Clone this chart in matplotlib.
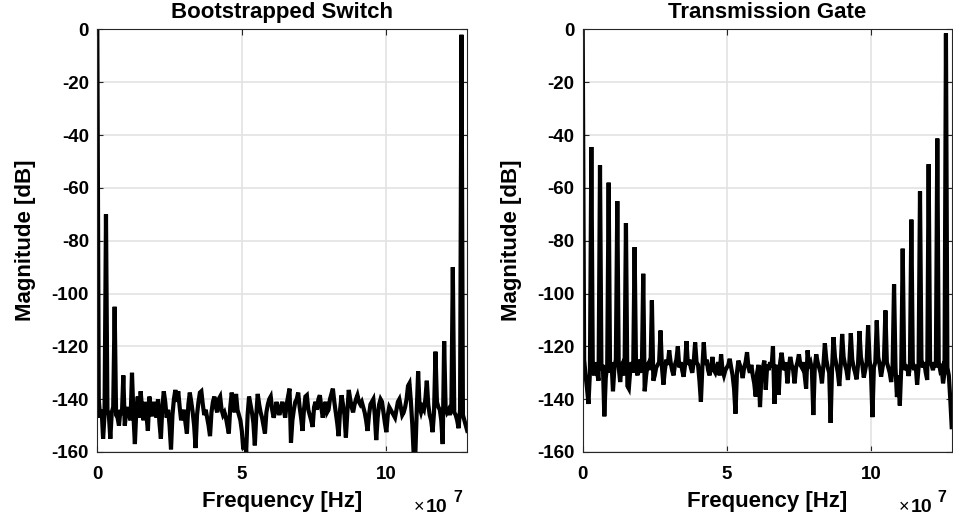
import numpy as np
import matplotlib
matplotlib.use("Agg")
import matplotlib.pyplot as plt

plt.rcParams['font.family'] = ['Liberation Sans', 'DejaVu Sans']
plt.rcParams['font.weight'] = 'bold'
plt.rcParams['axes.unicode_minus'] = False

fs = 256e6
nfft = 512

titles = ["Bootstrapped Switch", "Transmission Gate"]
xlabel = "Frequency [Hz]"
ylabel = "Magnitude [dB]"
xtick_vals = [0, 5e7, 10e7]
xtick_labels = ["0", "5", "10"]
ytick_vals = [0, -20, -40, -60, -80, -100, -120, -140, -160]

bootstrapped_db = [
    0, -140, -147, -144, -155, -146, -70, -144, -146, -155, -145, -143,
    -105, -146, -147, -150, -144, -146, -131, -150, -145, -143, -146, -148,
    -130, -146, -157, -144, -139, -147, -137, -144, -148, -141, -146, -152,
    -139, -143, -146.5, -141, -144, -147, -140, -149, -155, -143, -137, -141,
    -147, -144, -150, -159, -146, -140, -136.5, -141, -137, -143, -148, -146,
    -144, -149, -153, -142, -137.5, -141, -145, -150, -158.5, -146, -141, -137.5,
    -137, -142, -146, -144, -147, -150, -154, -145, -141, -139, -143, -145,
    -140, -139, -144, -146, -145, -147, -150, -153, -143, -137.5, -141, -145,
    -138, -144, -146, -148, -152, -159, -155, -160, -146, -139, -142, -145,
    -149, -157.5, -146, -138, -142, -145, -147, -150, -153, -145, -142, -140,
    -139, -144, -147, -145, -141, -144, -146, -143, -141, -144, -147, -142,
    -139, -136, -156.5, -148, -144, -141, -140, -137.5, -143, -147, -152, -144,
    -139, -138.5, -144, -146, -148, -150.5, -143, -141, -144, -140, -138.5, -143,
    -147, -143, -141, -145, -144, -140, -138, -136, -141, -145, -149, -154,
    -144, -138.5, -142, -146, -154.5, -145, -136.5, -140, -143, -145, -142, -140,
    -138.5, -141, -142, -141, -143, -145, -148, -152, -146, -142, -141, -140,
    -146, -155.5, -147, -142, -140, -141, -145, -149, -152.5, -146, -143, -144,
    -145, -146, -147, -144, -141, -140, -143, -146, -145, -143, -140, -135,
    -134, -141, -150, -162, -162, -145, -129.5, -143, -145, -143, -144, -140,
    -133, -142, -146, -148, -152.5, -145, -122, -141, -143, -144, -148, -157,
    -118, -143, -145, -144, -146, -143, -90, -145, -146, -148, -151, -144,
    -2, -146, -148, -150, -152,
]

transmission_db = [
    0, -125, -131, -136, -141.8, -130, -44.5, -128, -131, -126, -130, -133,
    -51.4, -129, -127, -146.5, -132, -127, -58, -130, -126, -137, -128, -125,
    -65, -128, -133.5, -127, -126, -131, -73.3, -135, -136, -129, -126, -130,
    -82.4, -128, -131, -125, -128, -130, -92.5, -137, -131, -127, -126, -129,
    -102.6, -133, -131, -128, -127, -126, -114, -128, -134.5, -129, -125, -127,
    -121.5, -126, -129, -131, -127, -125, -120, -128, -126, -129, -131.5, -127,
    -118, -127, -125, -128, -130, -126, -118.5, -126, -127, -133, -141, -128,
    -118.5, -127, -125, -129, -131, -128, -124, -129, -130, -128, -126, -131,
    -123, -129, -131, -129, -128, -127, -124.7, -128, -131, -136, -145.5, -130,
    -125.4, -127, -129, -132, -128, -126, -122.2, -128, -130, -127, -131, -134,
    -139, -130, -127, -143, -131, -128, -125.4, -136.4, -127, -129, -126, -128,
    -120, -141.8, -129, -127, -138.3, -126, -122.4, -127, -129, -126, -134, -128,
    -124, -127, -129, -134, -128, -126, -123, -127, -128, -126, -131, -136,
    -121.5, -127, -126, -129, -146, -128, -123, -126, -128, -130, -134, -127,
    -118.8, -125, -128, -130, -149, -128, -116.5, -124, -127, -130, -135, -127,
    -115.3, -124, -127, -129, -132.7, -126, -115, -125, -128, -130, -132.5, -127,
    -114.2, -124, -127, -131.8, -129, -126, -112, -125, -130, -146.8, -128, -126,
    -110.2, -124, -127, -131.5, -128, -125, -106.4, -126, -128, -130, -133.5, -127,
    -96.5, -128, -139.2, -131, -142.4, -128, -83, -126, -129, -127, -131.2, -128,
    -72, -126, -129, -127, -134.5, -128, -61.3, -125, -128, -126, -130, -132.7,
    -51, -126, -127, -129, -126, -128, -41.3, -126, -129, -128, -134, -130,
    -1.5, -128, -131, -140, -150.6,
]

series = [bootstrapped_db, transmission_db]
freq = np.arange(len(bootstrapped_db)) * fs / nfft

fig = plt.figure(figsize=(9.54, 5.19), dpi=100)
positions = [[0.102, 0.1291, 0.3878, 0.8141], [0.6108, 0.1291, 0.3868, 0.8141]]

for pos, title, vals in zip(positions, titles, series):
    ax = fig.add_axes(pos)
    ax.plot(freq, vals, color='black', linewidth=3.0, solid_joinstyle='miter')
    ax.set_xlim(0, fs / 2)
    ax.set_ylim(-160, 0)
    ax.set_xticks(xtick_vals)
    ax.set_xticklabels(xtick_labels)
    ax.set_yticks(ytick_vals)
    ax.grid(True, color='#e3e3e3', linewidth=1.2)
    ax.set_axisbelow(True)
    for sp in ax.spines.values():
        sp.set_color('#262626')
        sp.set_linewidth(0.8)
    ax.tick_params(direction='in', length=4, width=0.8, color='#262626',
                   top=True, right=True, labelsize=13.5)
    ax.tick_params(axis='x', pad=10)
    ax.tick_params(axis='y', pad=6)
    for lab in ax.get_xticklabels() + ax.get_yticklabels():
        lab.set_fontweight('bold')
    ax.set_title(title, fontsize=16, fontweight='bold', pad=8)
    ax.set_xlabel(xlabel, fontsize=16, fontweight='bold', labelpad=6)
    ax.set_ylabel(ylabel, fontsize=16, fontweight='bold', labelpad=11)
    ax.text(0.856, -0.131, "\u00d7", transform=ax.transAxes, fontsize=13,
            fontweight='normal', ha='left', va='center')
    ax.text(0.888, -0.131, "10", transform=ax.transAxes, fontsize=14,
            fontweight='bold', ha='left', va='center')
    ax.text(0.962, -0.108, "7", transform=ax.transAxes, fontsize=11.5,
            fontweight='bold', ha='left', va='center')

fig.savefig("out.png", dpi=100)
